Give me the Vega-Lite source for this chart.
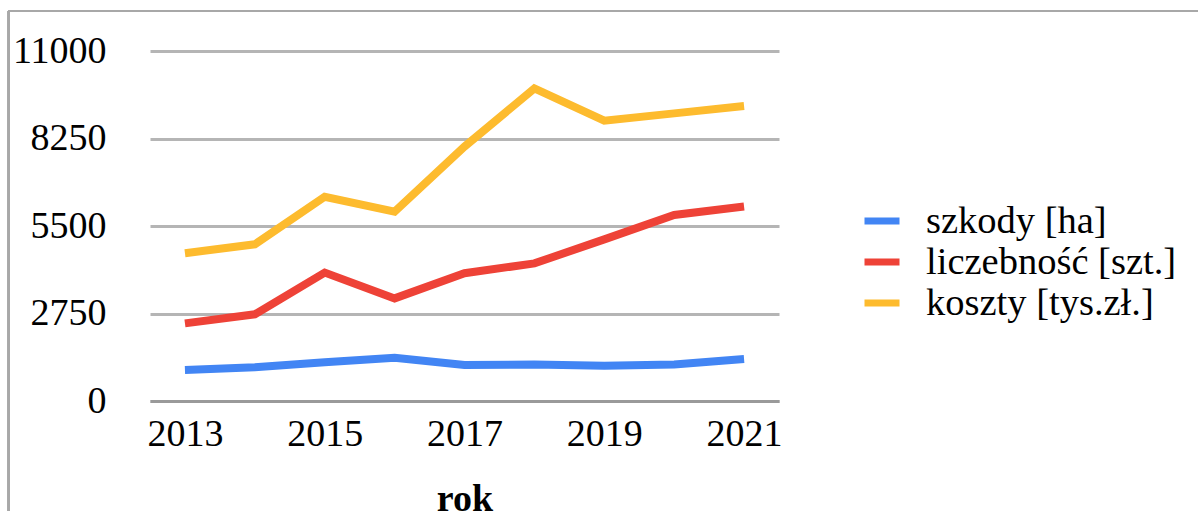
{
  "$schema": "https://vega.github.io/schema/vega-lite/v6.json",
  "width": 629,
  "height": 350,
  "autosize": {"type": "none"},
  "padding": {"left": 150, "top": 51, "right": 419, "bottom": 110},
  "background": "white",
  "config": {
    "view": {"stroke": null},
    "font": "Liberation Serif"
  },
  "data": {
    "values": [
      {"rok": 2013, "seria": "szkody [ha]", "wartosc": 975},
      {"rok": 2014, "seria": "szkody [ha]", "wartosc": 1060},
      {"rok": 2015, "seria": "szkody [ha]", "wartosc": 1215},
      {"rok": 2016, "seria": "szkody [ha]", "wartosc": 1360},
      {"rok": 2017, "seria": "szkody [ha]", "wartosc": 1130},
      {"rok": 2018, "seria": "szkody [ha]", "wartosc": 1150},
      {"rok": 2019, "seria": "szkody [ha]", "wartosc": 1110},
      {"rok": 2020, "seria": "szkody [ha]", "wartosc": 1145},
      {"rok": 2021, "seria": "szkody [ha]", "wartosc": 1320},
      {"rok": 2013, "seria": "liczebność [szt.]", "wartosc": 2440},
      {"rok": 2014, "seria": "liczebność [szt.]", "wartosc": 2725},
      {"rok": 2015, "seria": "liczebność [szt.]", "wartosc": 4035},
      {"rok": 2016, "seria": "liczebność [szt.]", "wartosc": 3225},
      {"rok": 2017, "seria": "liczebność [szt.]", "wartosc": 4015},
      {"rok": 2018, "seria": "liczebność [szt.]", "wartosc": 4325},
      {"rok": 2019, "seria": "liczebność [szt.]", "wartosc": 5080},
      {"rok": 2020, "seria": "liczebność [szt.]", "wartosc": 5845},
      {"rok": 2021, "seria": "liczebność [szt.]", "wartosc": 6110},
      {"rok": 2013, "seria": "koszty [tys.zł.]", "wartosc": 4645},
      {"rok": 2014, "seria": "koszty [tys.zł.]", "wartosc": 4925},
      {"rok": 2015, "seria": "koszty [tys.zł.]", "wartosc": 6420},
      {"rok": 2016, "seria": "koszty [tys.zł.]", "wartosc": 5950},
      {"rok": 2017, "seria": "koszty [tys.zł.]", "wartosc": 7995},
      {"rok": 2018, "seria": "koszty [tys.zł.]", "wartosc": 9825},
      {"rok": 2019, "seria": "koszty [tys.zł.]", "wartosc": 8810},
      {"rok": 2020, "seria": "koszty [tys.zł.]", "wartosc": 9040},
      {"rok": 2021, "seria": "koszty [tys.zł.]", "wartosc": 9270}
    ]
  },
  "layer": [
    {
      "mark": {"type": "rule", "color": "#a8a8a8", "strokeWidth": 2},
      "encoding": {
        "x": {"datum": 2010.48, "type": "quantitative", "scale": {"domain": [2012.5, 2021.5], "nice": false, "zero": false}},
        "y": {"datum": 12260, "type": "quantitative", "scale": {"domain": [0, 11000], "nice": false}},
        "y2": {"datum": -6000}
      }
    },
    {
      "mark": {"type": "rule", "color": "#a8a8a8", "strokeWidth": 2},
      "encoding": {
        "x": {"datum": 2010.48, "type": "quantitative"},
        "x2": {"datum": 2040},
        "y": {"datum": 12260, "type": "quantitative"}
      }
    },
    {
      "mark": {"type": "line", "strokeWidth": 8, "strokeJoin": "miter", "strokeCap": "butt"},
      "encoding": {
        "x": {
          "field": "rok",
          "type": "quantitative",
          "scale": {"domain": [2012.5, 2021.5], "nice": false, "zero": false},
          "axis": {
            "values": [2013, 2015, 2017, 2019, 2021],
            "format": "d",
            "grid": false,
            "ticks": false,
            "domain": true,
            "domainColor": "#9a9a9a",
            "domainWidth": 3,
            "labelFont": "Liberation Serif",
            "labelFontSize": 38,
            "labelColor": "#000000",
            "labelPadding": 14,
            "title": "rok",
            "titleFont": "Liberation Serif",
            "titleFontSize": 38,
            "titleFontWeight": "bold",
            "titleColor": "#000000",
            "titlePadding": 27
          }
        },
        "y": {
          "field": "wartosc",
          "type": "quantitative",
          "scale": {"domain": [0, 11000], "nice": false},
          "axis": {
            "values": [0, 2750, 5500, 8250, 11000],
            "format": "d",
            "grid": true,
            "gridColor": "#b5b5b5",
            "gridWidth": 3,
            "ticks": false,
            "domain": false,
            "labelFont": "Liberation Serif",
            "labelFontSize": 38,
            "labelColor": "#000000",
            "labelPadding": 44,
            "title": null
          }
        },
        "color": {
          "field": "seria",
          "type": "nominal",
          "scale": {
            "domain": ["szkody [ha]", "liczebność [szt.]", "koszty [tys.zł.]"],
            "range": ["#4285F4", "#EE4237", "#FDBB2E"]
          },
          "legend": {
            "title": null,
            "orient": "none",
            "legendX": 711,
            "legendY": 149,
            "symbolType": "stroke",
            "symbolSize": 1225,
            "symbolStrokeWidth": 7,
            "labelFont": "Liberation Serif",
            "labelFontSize": 38.5,
            "labelColor": "#000000",
            "labelOffset": 23,
            "rowPadding": 0,
            "labelLimit": 400
          }
        }
      }
    }
  ]
}
